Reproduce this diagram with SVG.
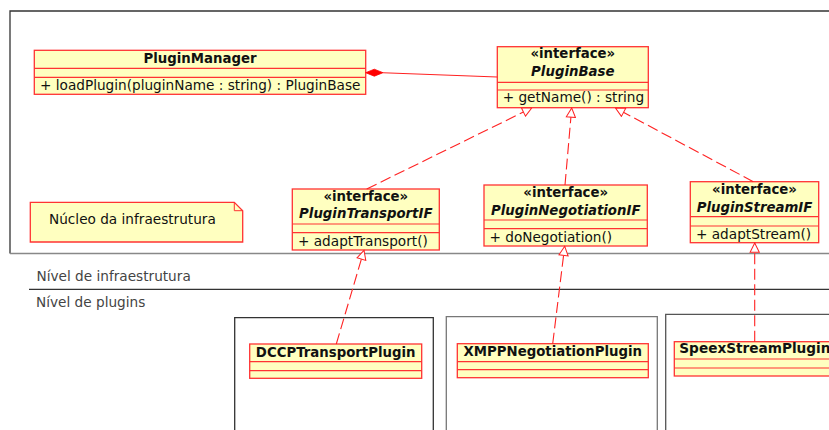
<svg xmlns="http://www.w3.org/2000/svg" width="829" height="430" viewBox="0 0 829 430">
  <style>
    text { font-family: "DejaVu Sans", "Liberation Sans", sans-serif; font-size: 13.65px; fill: #111; }
    .name { font-weight: bold; text-anchor: middle; font-size: 13.3px; }
    .iface { font-weight: bold; font-style: italic; text-anchor: middle; font-size: 13.3px; }
    .stereo { font-weight: bold; text-anchor: middle; font-size: 13.3px; }
    .label { fill: #444; }
    .cls { fill: #ffffc0; stroke: #f33; stroke-width: 1.3; }
    .sep { stroke: #f33; stroke-width: 1.2; fill: none; }
    .frame { fill: none; stroke: #333; stroke-width: 1.3; }
    .pkg { fill: none; stroke-width: 1.3; }
    .real { fill: none; stroke: #f22; stroke-width: 1.1; stroke-dasharray: 11 4.5; marker-end: url(#hollow); }
  </style>
  <defs>
    <marker id="hollow" viewBox="0 0 12 12" refX="11" refY="6" markerWidth="11" markerHeight="11" markerUnits="userSpaceOnUse" orient="auto">
      <path d="M1,1 L11,6 L1,11 Z" fill="#fff" stroke="#f22" stroke-width="1.1"/>
    </marker>
  </defs>

  <!-- infrastructure frame and level divider -->
  <g id="frame">
    <path class="frame" d="M829,11 H10 V253.5"/>
    <line x1="10" y1="253.5" x2="829" y2="253.5" stroke="#888" stroke-width="1.6"/>
    <line x1="29" y1="289.3" x2="829" y2="289.3" stroke="#333" stroke-width="1.2"/>
    <text class="label" x="36.5" y="281">Nível de infraestrutura</text>
    <text class="label" x="36" y="307">Nível de plugins</text>
  </g>

  <!-- plugin packages -->
  <g id="pkg-dccp">
    <path class="pkg" stroke="#333" d="M234.7,431 V317.7 H433.3 V431"/>
  </g>
  <g id="pkg-xmpp">
    <path class="pkg" stroke="#777" d="M446.3,431 V316.7 H657.3 V431"/>
  </g>
  <g id="pkg-speex">
    <path class="pkg" stroke="#555" d="M665.7,431 V314.3 H831"/>
  </g>

  <!-- note -->
  <g id="note">
    <path d="M30.3,202.3 H234.3 L242.7,210.7 V242 H30.3 Z" fill="#ffffc0" stroke="#f33" stroke-width="1.3"/>
    <path d="M234.3,202.3 V210.7 H242.7" fill="none" stroke="#f33" stroke-width="1"/>
    <text x="49" y="223.5">Núcleo da infraestrutura</text>
  </g>

  <!-- classes -->
  <g id="PluginManager">
    <rect class="cls" x="34.3" y="50.3" width="331.4" height="44"/>
    <line class="sep" x1="34.3" y1="68.3" x2="365.7" y2="68.3"/>
    <line class="sep" x1="34.3" y1="77.3" x2="365.7" y2="77.3"/>
    <text class="name" x="200" y="63">PluginManager</text>
    <text x="40" y="89.5">+ loadPlugin(pluginName : string) : PluginBase</text>
  </g>

  <g id="PluginBase">
    <rect class="cls" x="497.3" y="46.7" width="151" height="61"/>
    <line class="sep" x1="497.3" y1="82.3" x2="648.3" y2="82.3"/>
    <line class="sep" x1="497.3" y1="90" x2="648.3" y2="90"/>
    <text class="stereo" x="572.8" y="58">«interface»</text>
    <text class="iface" x="572.8" y="76">PluginBase</text>
    <text x="502.7" y="102.3">+ getName() : string</text>
  </g>

  <g id="PluginTransportIF">
    <rect class="cls" x="292.3" y="189" width="147" height="61"/>
    <line class="sep" x1="292.3" y1="224" x2="439.3" y2="224"/>
    <line class="sep" x1="292.3" y1="232.7" x2="439.3" y2="232.7"/>
    <text class="stereo" x="365.8" y="200.5">«interface»</text>
    <text class="iface" x="365.8" y="218.3">PluginTransportIF</text>
    <text x="298" y="246">+ adaptTransport()</text>
  </g>

  <g id="PluginNegotiationIF">
    <rect class="cls" x="484" y="185" width="163.3" height="61"/>
    <line class="sep" x1="484" y1="220" x2="647.3" y2="220"/>
    <line class="sep" x1="484" y1="228.7" x2="647.3" y2="228.7"/>
    <text class="stereo" x="565.7" y="197.3">«interface»</text>
    <text class="iface" x="565.7" y="215">PluginNegotiationIF</text>
    <text x="489.5" y="242.3">+ doNegotiation()</text>
  </g>

  <g id="PluginStreamIF">
    <rect class="cls" x="690.3" y="181.7" width="128.4" height="61"/>
    <line class="sep" x1="690.3" y1="216.7" x2="818.7" y2="216.7"/>
    <line class="sep" x1="690.3" y1="226" x2="818.7" y2="226"/>
    <text class="stereo" x="754.5" y="194.3">«interface»</text>
    <text class="iface" x="754.5" y="212">PluginStreamIF</text>
    <text x="696" y="238.7">+ adaptStream()</text>
  </g>

  <g id="DCCPTransportPlugin">
    <rect class="cls" x="249.7" y="344" width="172" height="34.3"/>
    <line class="sep" x1="249.7" y1="361.7" x2="421.7" y2="361.7"/>
    <line class="sep" x1="249.7" y1="370.7" x2="421.7" y2="370.7"/>
    <text class="name" x="335.7" y="356.7">DCCPTransportPlugin</text>
  </g>

  <g id="XMPPNegotiationPlugin">
    <rect class="cls" x="457.3" y="343.7" width="191" height="34"/>
    <line class="sep" x1="457.3" y1="361.7" x2="648.3" y2="361.7"/>
    <line class="sep" x1="457.3" y1="369.7" x2="648.3" y2="369.7"/>
    <text class="name" x="552.8" y="355.7">XMPPNegotiationPlugin</text>
  </g>

  <g id="SpeexStreamPlugin">
    <rect class="cls" x="674.3" y="341.7" width="160" height="34.3"/>
    <line class="sep" x1="674.3" y1="359" x2="834" y2="359"/>
    <line class="sep" x1="674.3" y1="368" x2="834" y2="368"/>
    <text x="679.3" y="353.3" font-weight="bold" font-size="13.3">SpeexStreamPlugin</text>
  </g>

  <!-- connectors -->
  <g id="connectors">
    <!-- composition: PluginManager owns PluginBase -->
    <line x1="383" y1="72.7" x2="497.3" y2="77" stroke="#f22" stroke-width="1.1"/>
    <path d="M365.7,72.7 L374.3,69.2 L383,72.7 L374.3,76.2 Z" fill="#f00" stroke="#f00" stroke-width="0.8"/>
    <!-- interfaces realizing/extending PluginBase -->
    <line class="real" x1="366.7" y1="189" x2="531.7" y2="108"/>
    <line class="real" x1="565" y1="185" x2="571.7" y2="108"/>
    <line class="real" x1="753.3" y1="181.7" x2="615.5" y2="108"/>
    <!-- plugins realizing interfaces -->
    <line class="real" x1="336.3" y1="344" x2="364" y2="250.3"/>
    <line class="real" x1="552.7" y1="343.7" x2="564.7" y2="246.3"/>
    <line class="real" x1="754.7" y1="341.7" x2="754.7" y2="243"/>
  </g>
</svg>
